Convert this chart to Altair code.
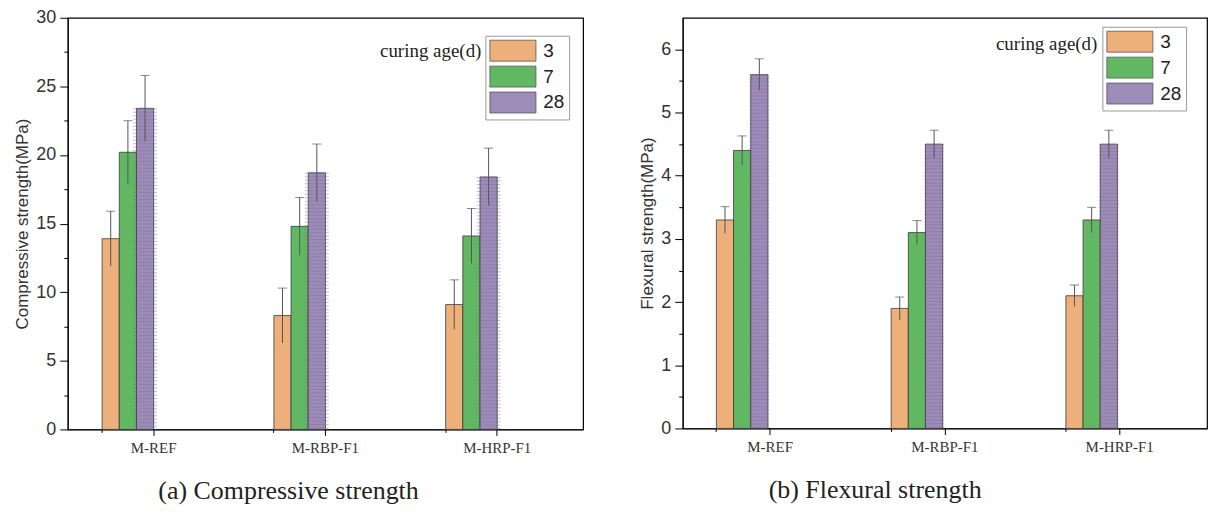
import altair as alt
import pandas as pd

groups = ["M-REF", "M-RBP-F1", "M-HRP-F1"]
ages = ["3", "7", "28"]

comp_3 = [13.9, 8.3, 9.1]
comp_7 = [20.2, 14.8, 14.1]
comp_28 = [23.4, 18.7, 18.4]
comp_err_3 = [2.0, 2.0, 1.8]
comp_err_7 = [2.3, 2.1, 2.0]
comp_err_28 = [2.4, 2.1, 2.1]

flex_3 = [3.3, 1.9, 2.1]
flex_7 = [4.4, 3.1, 3.3]
flex_28 = [5.6, 4.5, 4.5]
flex_err_3 = [0.21, 0.18, 0.17]
flex_err_7 = [0.23, 0.19, 0.20]
flex_err_28 = [0.25, 0.22, 0.22]

comp_ticks = [0, 5, 10, 15, 20, 25, 30]
comp_minor = [2.5, 7.5, 12.5, 17.5, 22.5, 27.5]
flex_ticks = [0, 1, 2, 3, 4, 5, 6]
flex_minor = [0.5, 1.5, 2.5, 3.5, 4.5, 5.5]

colors = ["#EEB07A", "#62B862", "#9D8BB8"]


def frame(means, errs):
    rows = []
    for age, m_list, e_list in zip(ages, means, errs):
        for g, m, e in zip(groups, m_list, e_list):
            rows.append({"group": g, "age": age, "mean": m, "lo": m - e, "hi": m + e})
    return pd.DataFrame(rows)


comp_df = frame([comp_3, comp_7, comp_28], [comp_err_3, comp_err_7, comp_err_28])
flex_df = frame([flex_3, flex_7, flex_28], [flex_err_3, flex_err_7, flex_err_28])


def panel(df, ydomain, yticks, yminor, ytitle, slots, pad_inner, caption, cap_dx,
          width, height, leg_x, leg_y, txt_x, txt_y, stripe_w):
    xs = alt.Scale(paddingInner=pad_inner, paddingOuter=pad_inner / 2)
    x_main = alt.X("group:N", sort=groups, scale=xs,
                   axis=alt.Axis(title=None, labelAngle=0, labelFont="Liberation Serif",
                                 labelFontSize=15, labelColor="#333", tickSize=6,
                                 labelPadding=5, tickColor="black", domainColor="black",
                                 orient="bottom"))
    x_minor = alt.X("group:N", sort=groups, scale=xs,
                    axis=alt.Axis(title=None, labels=False, bandPosition=0, tickSize=3,
                                  domain=False, tickColor="black", orient="bottom"))
    x_none = alt.X("group:N", sort=groups, scale=xs, axis=None)
    xo = alt.XOffset("age:N", scale=alt.Scale(domain=slots))
    ys = alt.Scale(domain=ydomain, nice=False, zero=True)
    y_main = alt.Y("mean:Q", scale=ys,
                   axis=alt.Axis(values=yticks, title=ytitle, grid=False, orient="left",
                                 labelFont="Liberation Sans", labelFontSize=18,
                                 labelColor="#333", tickSize=8, labelPadding=4,
                                 tickColor="black", domainColor="black",
                                 titleFont="Liberation Sans", titleFontSize=17,
                                 titleFontWeight="normal", titleColor="#333",
                                 titlePadding=4))
    y_minor = alt.Y("lo:Q", scale=ys,
                    axis=alt.Axis(values=yminor, title=None, labels=False, orient="left",
                                  tickSize=4, domain=False, tickColor="black", grid=False))
    bars = alt.Chart(df).mark_bar(stroke="#3a3a3a", strokeWidth=0.8).encode(
        x=x_main, xOffset=xo, y=y_main,
        color=alt.Color("age:N", sort=ages,
                        scale=alt.Scale(domain=ages, range=colors),
                        legend=alt.Legend(title=None, orient="none", legendX=leg_x,
                                          legendY=leg_y,
                                          symbolType="M-1,-1H3.4V1H-1Z", symbolSize=441,
                                          symbolStrokeColor="#555", symbolStrokeWidth=0.8,
                                          symbolOpacity=1, labelFont="Liberation Sans",
                                          labelFontSize=19, labelColor="#222",
                                          labelOffset=32, rowPadding=0,
                                          strokeColor="#999", padding=4)),
    )
    stripes = alt.Chart(df).transform_filter(alt.datum.age == "28").mark_rule(
        color="#7E6C9C", opacity=0.45, strokeWidth=stripe_w, strokeDash=[1, 2.5]).encode(
        x=x_none, xOffset=xo, y=alt.Y("mean:Q", scale=ys, axis=None),
        y2=alt.datum(0))
    rules = alt.Chart(df).mark_rule(color="#555", strokeWidth=1).encode(
        x=x_minor, xOffset=xo, y=y_minor, y2="hi:Q")
    caps_hi = alt.Chart(df).mark_tick(color="#555", thickness=1, size=9).encode(
        x=x_none, xOffset=xo, y=alt.Y("hi:Q", scale=ys, axis=None))
    label = alt.Chart(pd.DataFrame({"t": ["curing age(d)"]})).mark_text(
        align="right", baseline="middle", font="Liberation Serif", fontSize=19,
        color="#222").encode(x=alt.value(txt_x), y=alt.value(txt_y), text="t:N")
    return alt.layer(bars, stripes, rules, caps_hi, label).resolve_axis(
        x="independent", y="independent").properties(
        width=width, height=height,
        title=alt.TitleParams(caption, orient="bottom", anchor="middle", frame="group",
                              font="Liberation Serif", fontSize=26, fontWeight="normal",
                              color="#222", offset=23, dx=cap_dx))


left = panel(comp_df, [0, 30], comp_ticks, comp_minor, "Compressive strength(MPa)",
             ["3", "7", "28", "_"], 0.4, "(a) Compressive strength", -37,
             517, 413, 419, 18, 415, 33, 24)
right = panel(flex_df, [0, 6.5], flex_ticks, flex_minor, "Flexural strength(MPa)",
              ["3", "7", "28", "_a", "_b"], 0.385, "(b) Flexural strength", -70,
              526, 412, 421, 9, 416, 26, 20)

chart = alt.hconcat(left, right, spacing=54).resolve_legend(color="independent").resolve_scale(
    color="independent").properties(
    padding={"left": 13, "top": 7, "right": 4, "bottom": 5}).configure_view(
    stroke="black", strokeWidth=1.2)

chart.save("out.html", embed_options={"renderer": "svg", "actions": False})
